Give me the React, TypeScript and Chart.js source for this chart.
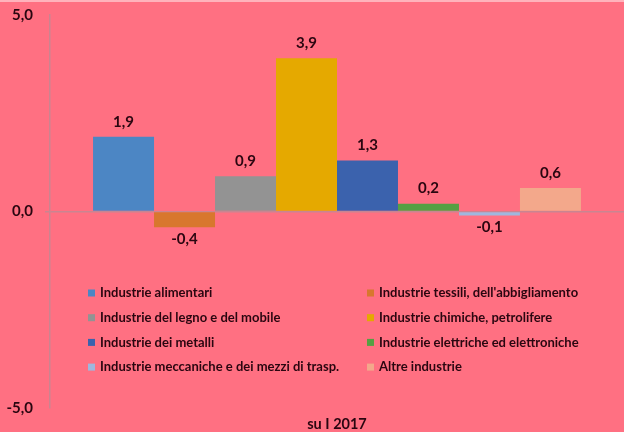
import React, { useEffect, useRef } from "react";
import { Chart, registerables } from "chart.js";

Chart.register(...registerables);

const categories = ["su I 2017"];
const seriesLabels = [
  "Industrie alimentari",
  "Industrie tessili, dell'abbigliamento",
  "Industrie del legno e del mobile",
  "Industrie chimiche, petrolifere",
  "Industrie dei metalli",
  "Industrie elettriche ed elettroniche",
  "Industrie meccaniche e dei mezzi di trasp.",
  "Altre industrie",
];
const seriesValues = [1.9, -0.4, 0.9, 3.9, 1.3, 0.2, -0.1, 0.6];
const seriesColors = [
  "#4C86C4",
  "#D8772E",
  "#939393",
  "#E5A900",
  "#3B62AD",
  "#55A043",
  "#9FB7DE",
  "#F3A88B",
];
const yTicks = [-5, 0, 5];

const TEXT = "#2A0610";
const FONT = "Lato";
const fmt = (v: number) => v.toFixed(1).replace(".", ",");

const valueLabels = {
  id: "valueLabels",
  afterDatasetsDraw(chart: any) {
    const ctx = chart.ctx;
    ctx.save();
    ctx.font = `bold 15px ${FONT}`;
    ctx.fillStyle = TEXT;
    ctx.textAlign = "center";
    ctx.textBaseline = "middle";
    chart.data.datasets.forEach((ds: any, i: number) => {
      const meta = chart.getDatasetMeta(i);
      meta.data.forEach((el: any, j: number) => {
        const v = ds.data[j];
        const y = v >= 0 ? el.y - 15 : el.y + 12;
        ctx.fillText(fmt(v), el.x, y);
      });
    });
    ctx.restore();
  },
};

const customLegend = {
  id: "customLegend",
  afterDraw(chart: any) {
    const ctx = chart.ctx;
    ctx.save();
    ctx.font = `bold 13px ${FONT}`;
    ctx.textBaseline = "middle";
    ctx.textAlign = "left";
    const colX = [88, 367];
    const rowY0 = 291;
    const rowStep = 24.7;
    chart.data.datasets.forEach((ds: any, i: number) => {
      const col = i % 2;
      const row = Math.floor(i / 2);
      const x = colX[col];
      const y = rowY0 + row * rowStep;
      ctx.fillStyle = ds.backgroundColor;
      ctx.fillRect(x, y - 3.5, 7, 7);
      ctx.fillStyle = TEXT;
      ctx.fillText(ds.label, x + 12, y);
    });
    ctx.restore();
  },
};

export default function App() {
  const ref = useRef<HTMLCanvasElement | null>(null);
  useEffect(() => {
    document.body.style.margin = "0";
    if (!ref.current) return;
    const chart = new Chart(ref.current, {
      type: "bar",
      data: {
        labels: categories,
        datasets: seriesLabels.map((label, i) => ({
          label,
          data: [seriesValues[i]],
          backgroundColor: seriesColors[i],
          borderWidth: 0,
        })),
      },
      options: {
        animation: false,
        responsive: false,
        maintainAspectRatio: false,
        layout: { padding: { top: 13, left: 0, right: 0, bottom: 0 } },
        datasets: { bar: { categoryPercentage: 0.85, barPercentage: 1 } },
        plugins: {
          legend: { display: false },
          tooltip: { enabled: false },
        },
        scales: {
          x: {
            position: "bottom",
            grid: { display: false, drawTicks: false },
            border: { display: false },
            ticks: {
              padding: 8,
              color: TEXT,
              font: { family: FONT, weight: "bold", size: 14.5 },
            },
            afterFit: (s: any) => {
              s.height = 24;
              s.paddingLeft = 0;
              s.paddingRight = 0;
            },
          },
          y: {
            min: -5,
            max: 5,
            afterBuildTicks: (s: any) => {
              s.ticks = yTicks.map((v) => ({ value: v }));
            },
            grid: {
              color: (c: any) => (c.tick && c.tick.value === 0 ? "#C98591" : "rgba(0,0,0,0)"),
              tickLength: 5,
              lineWidth: 1.5,
            },
            border: { display: true, color: "#C98591", width: 1.5 },
            ticks: {
              padding: 12,
              color: TEXT,
              font: { family: FONT, weight: "bold", size: 15 },
              callback: (v: any) => fmt(Number(v)),
            },
            afterFit: (s: any) => {
              s.width = 50;
              s.paddingTop = 0;
              s.paddingBottom = 0;
            },
          },
        },
      },
      plugins: [valueLabels, customLegend],
    });
    return () => chart.destroy();
  }, []);
  return (
    <div
      style={{
        width: 624,
        height: 432,
        background: "#FF7082",
        position: "relative",
        overflow: "hidden",
      }}
    >
      <div style={{ position: "absolute", left: 0, top: 0, width: 624, height: 2, background: "#FFB3BC" }} />
      <canvas ref={ref} width={624} height={430} style={{ position: "absolute", left: 0, top: 2, display: "block" }} />
    </div>
  );
}
